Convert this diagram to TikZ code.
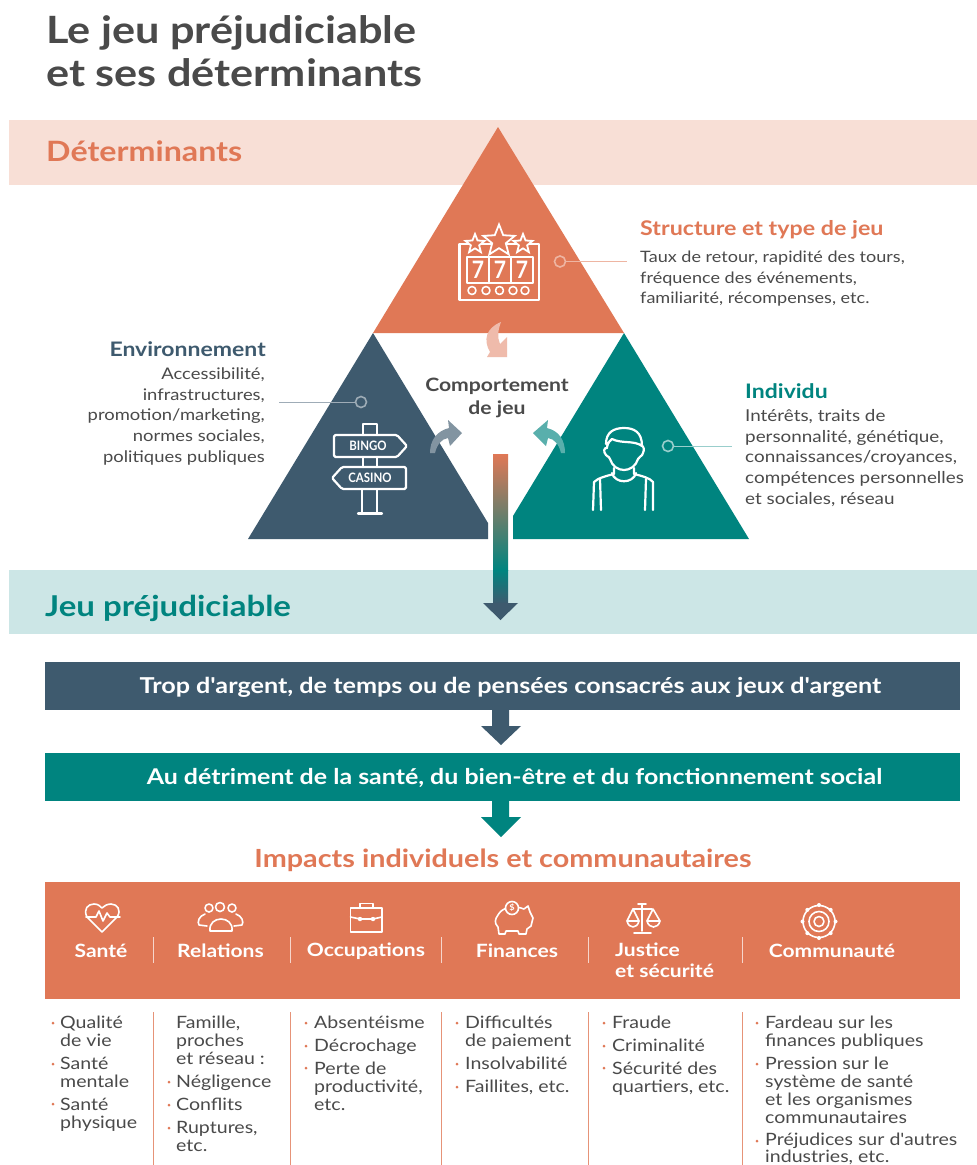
\documentclass[tikz,border=0pt]{standalone}
\usepackage{fontspec}
\setmainfont[FakeStretch=1.15,Ligatures=TeXOff]{Lato}
\newfontfamily\cond[FakeStretch=0.88]{Lato}
\usetikzlibrary{calc,shapes.geometric}
\definecolor{org}{HTML}{E07856}
\definecolor{pale}{HTML}{F8DFD6}
\definecolor{tealc}{HTML}{00847F}
\definecolor{palet}{HTML}{CCE6E6}
\definecolor{dark}{HTML}{3E5A6E}
\definecolor{gry}{HTML}{4A4A4A}
\newcommand{\fs}[2]{\fontsize{#1}{#2}\selectfont}
\tikzset{
 txt/.style={inner sep=0pt,anchor=north west,align=left,text=gry,font=\fs{16}{20.5}},
 txtr/.style={inner sep=0pt,anchor=north east,align=right,text=gry,font=\fs{16}{20.7}},
 head/.style={inner sep=0pt,anchor=west,font=\fs{20}{24}\bfseries},
 band/.style={inner sep=0pt,anchor=west,font=\fs{28}{32}\bfseries},
 bartxt/.style={inner sep=0pt,text=white,font=\fs{22}{26}\bfseries},
 cat/.style={inner sep=0pt,text=white,font=\fs{18.3}{21}\bfseries},
 lst/.style={inner sep=0pt,anchor=north west,align=left,text=gry,font=\fs{17}{18}},
 ic/.style={draw=white,line width=2.2pt,line join=round,line cap=round,fill=none},
 icf/.style={draw=white,line width=1.6pt,line join=round,line cap=round,fill=none},
 starn/.style={star,star points=5,star point ratio=2.3,draw=white,line width=1.8pt,fill=org,inner sep=0pt},
}
\begin{document}
\begin{tikzpicture}[x=1pt,y=-1pt]
\useasboundingbox (0,0) rectangle (977,1165);
\fill[white] (0,0) rectangle (977,1165);
% title
\node[inner sep=0pt,anchor=base west,text=gry,font=\fs{37.6}{44}\bfseries] (t1) at (46,43) {Le jeu préjudiciable};
\node[inner sep=0pt,anchor=base west,text=gry,font=\fs{37.6}{44}\bfseries] (t2) at (46,86) {et ses déterminants};
% bands
\fill[pale] (9,120) rectangle (977,185);
\fill[palet] (9,570) rectangle (977,634);
\node[band,text=org] (b1) at (46,151) {Déterminants};
\node[band,text=tealc,font=\fs{28.7}{32}\bfseries] (b2) at (45,608) {Jeu préjudiciable};
% triangles
\fill[org] (498,127) -- (624,333) -- (373,333) -- cycle;
\fill[dark] (373,333) -- (488,523) -- (488,539) -- (248,539) -- cycle;
\fill[tealc] (624,333) -- (749,539) -- (513,539) -- (513,516) -- cycle;
% curved arrows
\fill[org!50!white] (501,322) .. controls (486,328) and (483,340) .. (490,352) -- (487,357) -- (507,357) -- (507,337) -- (500,344) .. controls (497,337) and (498,330) .. (501,322) -- cycle;
\fill[dark!65!white] (430,453) .. controls (430,440) and (437,431) .. (449,428) -- (448,420) -- (462,433) -- (450,446) -- (448,438) .. controls (441,439) and (437,445) .. (435,453) -- cycle;
\fill[tealc!65!white] (565,453) .. controls (565,440) and (559,431) .. (547,428) -- (548,420) -- (533,433) -- (546,446) -- (548,438) .. controls (555,439) and (559,445) .. (561,453) -- cycle;
% gradient arrow
\shade[top color=org,bottom color=tealc] (493,454) rectangle (508,570);
\shade[top color=tealc,bottom color=dark] (493,570) rectangle (508,604);
\fill[dark] (483,603) -- (518,603) -- (500.5,620) -- cycle;
% comportement
\node[inner sep=0pt,align=center,text=gry,font=\fs{18.4}{23}\bfseries] (cj) at (497,398) {Comportement\\de jeu};
% slot machine
\begin{scope}[ic]
\draw (459.5,244) rectangle (539,300);
\draw (467,257) rectangle (533,283);
\draw (489,257) -- (489,283) (511,257) -- (511,283);
\end{scope}
\foreach \x/\n in {478/a,500/b,522/c}{\node[inner sep=0pt,text=white,font=\cond\fs{24}{24}\bfseries] (seven\n) at (\x,270) {7};}
\foreach \x in {472,486,499.5,513,525}{\draw[icf,fill=org] (\x,290.5) circle (4);}
\node[starn,minimum size=20pt] (s1) at (475,244) {};
\node[starn,minimum size=20pt] (s3) at (523,244) {};
\node[starn,minimum size=33pt] (s2) at (499,241) {};
% connector slot
\node[circle,draw=org!55!white,fill=none,line width=1.6pt,minimum size=11pt,inner sep=0pt] (d1) at (560,261.5) {};
\coordinate (e1) at (627,261.5);
\draw[org!55!white,line width=1pt] (d1) -- (e1);
% sign posts
\begin{scope}[ic]
\draw (363,435) -- (363,424) -- (377,424) -- (377,435);
\draw[rounded corners=1.5pt] (334,435) -- (397,435) -- (407,446) -- (397,457) -- (334,457) -- cycle;
\draw (363,457) -- (363,467) (377,457) -- (377,467);
\draw[rounded corners=1.5pt] (342,467) -- (406,467) -- (406,489) -- (342,489) -- (332,478) -- cycle;
\draw (362,489) -- (362,513) (377,489) -- (377,513);
\draw (358,513.5) -- (382,513.5);
\end{scope}
\node[inner sep=0pt,text=white,font=\cond\fs{13}{13}\bfseries] (bingo) at (368,445.5) {BINGO};
\node[inner sep=0pt,text=white,font=\cond\fs{13}{13}\bfseries] (casino) at (370,477.5) {CASINO};
\node[circle,draw=white!50!dark,line width=1.6pt,minimum size=11pt,inner sep=0pt] (d2) at (361,402) {};
\coordinate (e2) at (279,402);
\draw[white!50!dark,line width=1pt] (d2) -- (e2);
% person
\begin{scope}[ic]
\draw (606,444) .. controls (606,432) and (614,428) .. (624,428) .. controls (634,428) and (642,432) .. (642,446) .. controls (634,440) and (622,444) .. (612,439) .. controls (608,442) and (607,446) .. (607,448);
\draw (607,448) .. controls (604,447) and (603,452) .. (606,455) .. controls (609,458) and (609,456) .. (610,459) .. controls (612,466) and (618,470) .. (624,470) .. controls (630,470) and (636,466) .. (638,459) .. controls (639,456) and (642,457) .. (643,453) .. controls (645,449) and (643,446) .. (642,446);
\draw (614,468) -- (614,474) .. controls (606,476) and (598,478) .. (594,482) -- (593,510);
\draw (634,468) -- (634,474) .. controls (642,476) and (650,478) .. (653,482) -- (653,510);
\draw (612,473) .. controls (615,484) and (633,484) .. (636,473);
\draw (600,479) -- (601,510) (646,479) -- (645,510);
\end{scope}
\node[circle,draw=white!60!tealc,line width=1.6pt,minimum size=11pt,inner sep=0pt] (d3) at (668,446) {};
\coordinate (e3) at (732,446);
\draw[white!60!tealc,line width=1pt] (d3) -- (e3);
% side text
\node[head,text=org,font=\fs{20.2}{24}\bfseries] (h1) at (640,229.5) {Structure et type de jeu};
\node[txt,font=\fs{15.7}{20.5}] (p1) at (640,251) {Taux de retour, rapidité des tours,\\fréquence des événements,\\familiarité, récompenses, etc.};
\node[head,inner sep=0pt,anchor=east,text=dark] (h2) at (266,349) {Environnement};
\node[txtr] (p2) at (265,367.5) {Accessibilité,\\infrastructures,\\promotion/marketing,\\normes sociales,\\politiques publiques};
\node[head,text=tealc] (h3) at (745,391) {Individu};
\node[txt,font=\fs{16.4}{20.6}] (p3) at (745,409.5) {Intérêts, traits de\\personnalité, génétique,\\connaissances/croyances,\\compétences personnelles\\et sociales, réseau};
% bars
\fill[dark] (45,662) rectangle (960,710);
\node[bartxt,font=\fs{21.9}{26}\bfseries] (bt1) at (510.5,687.5) {Trop d'argent, de temps ou de pensées consacrés aux jeux d'argent};
\fill[dark] (492,710) -- (509,710) -- (509,726) -- (521,726) -- (501,745) -- (481,726) -- (492,726) -- cycle;
\fill[tealc] (45,753) rectangle (960,801);
\node[bartxt,font=\fs{21.7}{26}\bfseries] (bt2) at (514.5,777.5) {Au détriment de la santé, du bien-être et du fonctionnement social};
\fill[tealc] (492,801) -- (509,801) -- (509,817) -- (521,817) -- (501,837) -- (481,817) -- (492,817) -- cycle;
\node[inner sep=0pt,text=org,font=\fs{25}{28}\bfseries] (imp) at (503,860) {Impacts individuels et communautaires};
% orange box
\fill[org] (45,882) rectangle (960,999);
\foreach \x in {153,290,441,588,742}{\draw[white!70!org,line width=1pt] (\x,937) -- (\x,963);}
\node[cat] (c1) at (101,951) {Santé};
\node[cat] (c2) at (220.5,951) {Relations};
\node[cat] (c3) at (366,951) {Occupations};
\node[cat] (c4) at (517,951) {Finances};
\node[cat,anchor=north west,align=left] (c5) at (615,943) {Justice\\et sécurité};
\node[cat] (c6) at (832,951) {Communauté};
% heart icon
\draw[icf] (102,932) -- (87,917) .. controls (83,909) and (88,904) .. (94,904) .. controls (98,904) and (100,906) .. (102,908) .. controls (104,906) and (107,904) .. (111,904) .. controls (117,904) and (122,910) .. (117,917) -- cycle;
\draw[icf] (86,917) -- (96,917) -- (99,911) -- (103,921) -- (107,913) -- (110,917) -- (120,917);
% people icon
\foreach \x/\y/\r in {220/907/4.5,209/908/4,232/908/4}{\draw[icf] (\x,\y) circle (\r);}
\draw[icf] (210,931) .. controls (208,915) and (234,915) .. (232,931) -- cycle;
\draw[icf] (205,914) .. controls (199,916) and (197,922) .. (199,925) -- (207,926);
\draw[icf] (236,914) .. controls (242,916) and (244,922) .. (242,925) -- (234,926);
% case icon
\draw[icf] (350.5,908) rectangle (382,932);
\draw[icf] (360,908) -- (360,903.5) -- (373,903.5) -- (373,908);
\draw[icf] (350.5,917) -- (360,919) (373,919) -- (382,917) (361,919) -- (372,919);
\fill[white] (360,919) circle (2.2) (373,919) circle (2.2);
% piggy icon
\begin{scope}[shift={(-6,1)}]
\draw[icf] (504,914) .. controls (508,906) and (520,904) .. (530,908) -- (534,905) -- (536,911) -- (539,917) -- (537,925) -- (533,928) -- (532,933) -- (525,933) -- (524,930) -- (512,930) -- (511,933) -- (505,933) -- (504,926) .. controls (500,922) and (501,918) .. (504,914) -- cycle;
\end{scope}
\draw[icf,fill=org] (512,908) circle (6.5);
\node[inner sep=0pt,text=white,font=\fs{8}{8}\bfseries] (dollar) at (512,908) {\$};
% scales icon
\draw[icf] (642,904) -- (642,931) (634,933) -- (651,933);
\draw[icf] (633,909) -- (652,909);
\draw[icf] (638,904) -- (646,904);
\draw[icf] (633,909) -- (627,921) (633,909) -- (639,921);
\draw[icf] (627,921) .. controls (629,929) and (637,929) .. (639,921) -- cycle;
\draw[icf] (653,909) -- (647,921) (653,909) -- (660,921);
\draw[icf] (647,921) .. controls (649,929) and (658,929) .. (660,921) -- cycle;
% community icon
\draw[icf] (819,921.5) circle (16);
\draw[icf] (819,921.5) circle (10);
\draw[icf] (819,921.5) circle (5);
\foreach \a in {0,45,...,315}{\fill[white] ($(819,921.5)+(\a:16.5)$) circle (2);}
% body dividers
\foreach \x in {153,290,441,588,742}{\draw[org!80!white,line width=.9pt] (\x,1012) -- (\x,1165);}
% lists
\node[lst] (l1a) at (60,1016) {Qualité\\de vie};
\node[lst] (l1b) at (60,1057) {Santé\\mentale};
\node[lst] (l1c) at (60,1098) {Santé\\physique};
\node[lst] (l2a) at (176,1016) {Famille,\\proches\\et réseau :};
\node[lst] (l2b) at (176,1075) {Négligence};
\node[lst] (l2c) at (176,1098) {Conflits};
\node[lst] (l2d) at (176,1121) {Ruptures,\\etc.};
\node[lst] (l3a) at (314,1016) {Absentéisme};
\node[lst] (l3b) at (314,1039) {Décrochage};
\node[lst] (l3c) at (314,1062) {Perte de\\productivité,\\etc.};
\node[lst] (l4a) at (465,1016) {Difficultés\\de paiement};
\node[lst] (l4b) at (465,1057) {Insolvabilité};
\node[lst] (l4c) at (465,1080) {Faillites, etc.};
\node[lst] (l5a) at (612,1016) {Fraude};
\node[lst] (l5b) at (612,1039) {Criminalité};
\node[lst] (l5c) at (612,1062) {Sécurité des\\quartiers, etc.};
\node[lst] (l6a) at (765,1016) {Fardeau sur les\\finances publiques};
\node[lst] (l6b) at (765,1057) {Pression sur le\\système de santé\\et les organismes\\communautaires};
\node[lst,font=\fs{17}{17}] (l6c) at (765,1133) {Préjudices sur d'autres\\industries, etc.};
\foreach \x/\y in {53/1023,53/1064,53/1104,169/1082,169/1105,169/1128,306/1023,306/1046,306/1068,457/1023,457/1064,457/1087,604/1023,604/1046,604/1068,757/1023,757/1064,757/1141}{\fill[org] (\x,\y) circle (1.5);}
\end{tikzpicture}
\end{document}
